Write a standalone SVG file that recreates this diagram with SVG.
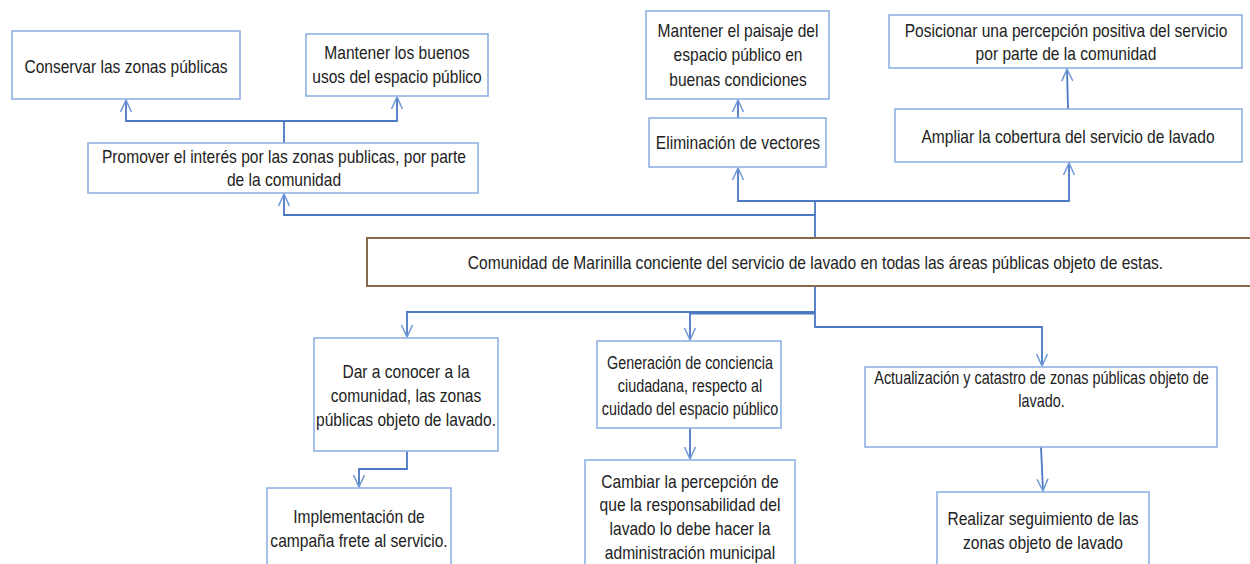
<svg xmlns="http://www.w3.org/2000/svg" width="1250" height="564" viewBox="0 0 1250 564">
<style>
  .box { fill: #ffffff; stroke: #8fb2e4; stroke-width: 1.6; }
  .main { fill: #ffffff; stroke: #866a4a; stroke-width: 2; }
  .t { font-family: "Liberation Sans", Arial, sans-serif; font-size: 17.5px; fill: #222222; text-anchor: middle; }
  .c { fill: none; stroke: #4a78c2; stroke-width: 1.8; stroke-linejoin: miter; }
</style>
<defs>
  <marker id="arr" markerUnits="userSpaceOnUse" viewBox="-14 -8 16 16" markerWidth="16" markerHeight="16" refX="0" refY="0" orient="auto">
    <path d="M-12,-5.5 L0,0 L-12,5.5" fill="none" stroke="#6f98d8" stroke-width="1.5"/>
  </marker>
</defs>
<rect width="1250" height="564" fill="#ffffff"/>

<g id="connectors">
  <path class="c" d="M284,143 V121 H126 V100" marker-end="url(#arr)"/>
  <path class="c" d="M284,121 H397 V97" marker-end="url(#arr)"/>
  <path class="c" d="M815,238 V215 H284 V194" marker-end="url(#arr)"/>
  <path class="c" d="M815,215 V201 H738 V168" marker-end="url(#arr)"/>
  <path class="c" d="M815,201 H1069 V163" marker-end="url(#arr)"/>
  <path class="c" d="M738,118 V100" marker-end="url(#arr)"/>
  <path class="c" d="M1068,109 L1067,69" marker-end="url(#arr)"/>
  <path class="c" d="M815,286 V312 H407 V337" marker-end="url(#arr)"/>
  <path class="c" d="M815,313.5 H690 V340" marker-end="url(#arr)"/>
  <path class="c" d="M815,312 V327 H1042 V366" marker-end="url(#arr)"/>
  <path class="c" d="M407,451 V469 H359 V487" marker-end="url(#arr)"/>
  <path class="c" d="M690,428 V459" marker-end="url(#arr)"/>
  <path class="c" d="M1041,447 L1043,491" marker-end="url(#arr)"/>
</g>

<g id="conservar">
  <rect class="box" x="12" y="31" width="228" height="68"/>
  <text class="t" transform="translate(126,0) scale(0.89,1)"><tspan x="0" y="73">Conservar las zonas públicas</tspan></text>
</g>
<g id="mantener-usos">
  <rect class="box" x="306" y="34" width="182" height="62"/>
  <text class="t" transform="translate(397,0) scale(0.89,1)"><tspan x="0" y="59">Mantener los buenos</tspan><tspan x="0" y="83">usos del espacio público</tspan></text>
</g>
<g id="promover">
  <rect class="box" x="88" y="143" width="390" height="50"/>
  <text class="t" transform="translate(284,0) scale(0.89,1)"><tspan x="0" y="163">Promover el interés por las zonas publicas, por parte</tspan><tspan x="0" y="186">de la comunidad</tspan></text>
</g>
<g id="mantener-paisaje">
  <rect class="box" x="646" y="11" width="183" height="88"/>
  <text class="t" transform="translate(738,0) scale(0.89,1)"><tspan x="0" y="37">Mantener el paisaje del</tspan><tspan x="0" y="61">espacio público en</tspan><tspan x="0" y="86">buenas condiciones</tspan></text>
</g>
<g id="eliminacion">
  <rect class="box" x="649" y="118" width="177" height="49"/>
  <text class="t" transform="translate(738,0) scale(0.89,1)"><tspan x="0" y="149">Eliminación de vectores</tspan></text>
</g>
<g id="posicionar">
  <rect class="box" x="889" y="15" width="353" height="53"/>
  <text class="t" transform="translate(1066,0) scale(0.89,1)"><tspan x="0" y="37">Posicionar una percepción positiva del servicio</tspan><tspan x="0" y="60">por parte de la comunidad</tspan></text>
</g>
<g id="ampliar">
  <rect class="box" x="895" y="109" width="347" height="53"/>
  <text class="t" transform="translate(1068,0) scale(0.89,1)"><tspan x="0" y="143">Ampliar la cobertura del servicio de lavado</tspan></text>
</g>
<g id="comunidad">
  <rect class="main" x="367" y="238" width="890" height="48"/>
  <text class="t" transform="translate(815.5,0) scale(0.89,1)"><tspan x="0" y="269">Comunidad de Marinilla conciente del servicio de lavado en todas las áreas públicas objeto de estas.</tspan></text>
</g>
<g id="dar-a-conocer">
  <rect class="box" x="314" y="338" width="184" height="113"/>
  <text class="t" transform="translate(406,0) scale(0.89,1)"><tspan x="0" y="378">Dar a conocer a la</tspan><tspan x="0" y="402">comunidad, las zonas</tspan><tspan x="0" y="426">públicas objeto de lavado.</tspan></text>
</g>
<g id="implementacion">
  <rect class="box" x="267" y="488" width="184" height="90"/>
  <text class="t" transform="translate(359,0) scale(0.89,1)"><tspan x="0" y="523">Implementación de</tspan><tspan x="0" y="547">campaña frete al servicio.</tspan></text>
</g>
<g id="generacion">
  <rect class="box" x="597" y="341" width="184" height="87"/>
  <text class="t" transform="translate(690,0) scale(0.82,1)"><tspan x="0" y="369">Generación de conciencia</tspan><tspan x="0" y="392">ciudadana, respecto al</tspan><tspan x="0" y="415">cuidado del espacio público</tspan></text>
</g>
<g id="cambiar">
  <rect class="box" x="585" y="460" width="210" height="120"/>
  <text class="t" transform="translate(690,0) scale(0.89,1)"><tspan x="0" y="488">Cambiar la percepción de</tspan><tspan x="0" y="511">que la responsabilidad del</tspan><tspan x="0" y="535">lavado lo debe hacer la</tspan><tspan x="0" y="559">administración municipal</tspan></text>
</g>
<g id="actualizacion">
  <rect class="box" x="865" y="367" width="352" height="80"/>
  <text class="t" transform="translate(1041.5,0) scale(0.825,1)"><tspan x="0" y="384">Actualización y catastro de zonas públicas objeto de</tspan><tspan x="0" y="407">lavado.</tspan></text>
</g>
<g id="realizar">
  <rect class="box" x="937" y="492" width="212" height="90"/>
  <text class="t" transform="translate(1043,0) scale(0.89,1)"><tspan x="0" y="525">Realizar seguimiento de las</tspan><tspan x="0" y="549">zonas objeto de lavado</tspan></text>
</g>
</svg>
